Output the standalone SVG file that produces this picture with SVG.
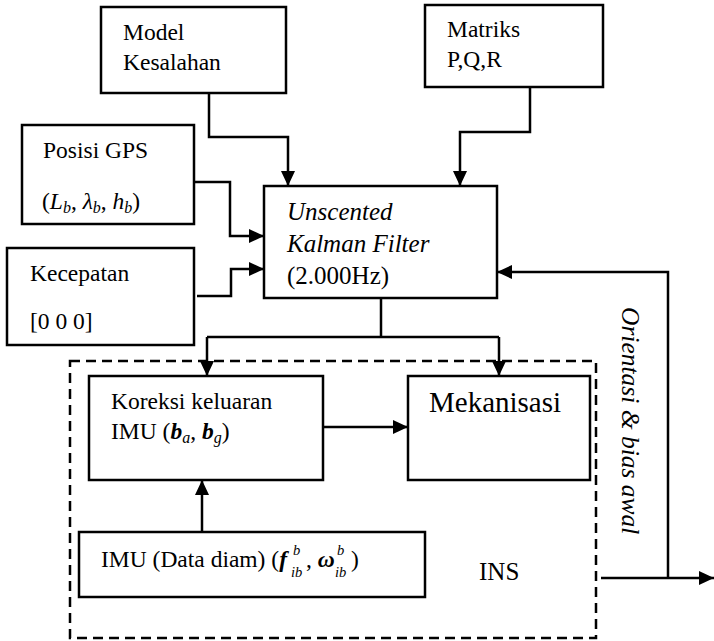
<svg xmlns="http://www.w3.org/2000/svg" width="714" height="641" viewBox="0 0 714 641" font-family="'Liberation Serif', 'Times New Roman', 'DejaVu Serif', serif">
<style>
.box{fill:#fff;stroke:#000;stroke-width:2.5}
.t{font-size:23.5px;fill:#000}
.it{font-style:italic}
.bi{font-style:italic;font-weight:bold}
.sm{font-size:16px}
.xs{font-size:14.5px}
.c{fill:none;stroke:#000;stroke-width:2.5}
</style>
<defs>
<marker id="ah" markerUnits="userSpaceOnUse" markerWidth="16" markerHeight="14" refX="15" refY="7" orient="auto">
<path d="M0,0 L15,7 L0,14 z" fill="#000"/>
</marker>
</defs>
<rect width="714" height="641" fill="#fff"/>

<g id="ins-group">
<rect x="70" y="361" width="526" height="277" fill="none" stroke="#000" stroke-width="2.5" stroke-dasharray="10,6"/>
<text class="t" x="479" y="580" font-family="'Liberation Serif', serif" style="font-size:25px">INS</text>
</g>

<g id="connectors">
<path class="c" d="M209,93 V137 H288 V186" marker-end="url(#ah)"/>
<path class="c" d="M530,87 V132 H460 V186" marker-end="url(#ah)"/>
<path class="c" d="M194,182 H230 V236 H264" marker-end="url(#ah)"/>
<path class="c" d="M197,296 H231 V269 H264" marker-end="url(#ah)"/>
<path class="c" d="M381,298 V337"/>
<path class="c" d="M207,337 H499"/>
<path class="c" d="M207,337 V376" marker-end="url(#ah)"/>
<path class="c" d="M499,337 V376" marker-end="url(#ah)"/>
<path class="c" d="M323,427 H408" marker-end="url(#ah)"/>
<path class="c" d="M202,532 V480" marker-end="url(#ah)"/>
<path class="c" d="M601,578 H714" marker-end="url(#ah)"/>
<path class="c" d="M668,578 V272 H497" marker-end="url(#ah)"/>
</g>

<g id="model-kesalahan" font-family="'Liberation Serif', serif">
<rect class="box" x="101" y="7" width="185" height="86"/>
<text class="t" x="123" y="40">Model</text>
<text class="t" x="123" y="70">Kesalahan</text>
</g>

<g id="matriks" font-family="'Liberation Serif', serif">
<rect class="box" x="425" y="5" width="178" height="82"/>
<text class="t" x="447" y="37">Matriks</text>
<text class="t" x="447" y="67">P,Q,R</text>
</g>

<g id="posisi-gps" font-family="'Liberation Serif', serif">
<rect class="box" x="22" y="125" width="172" height="99"/>
<text class="t" x="43" y="158">Posisi GPS</text>
<text class="t" x="42" y="209">(<tspan class="it">L</tspan><tspan class="it sm" dy="4">b</tspan><tspan dy="-4">, </tspan><tspan class="it">λ</tspan><tspan class="it sm" dy="4">b</tspan><tspan dy="-4">, </tspan><tspan class="it">h</tspan><tspan class="it sm" dy="4">b</tspan><tspan dy="-4">)</tspan></text>
</g>

<g id="kecepatan" font-family="'Liberation Serif', serif">
<rect class="box" x="7" y="248" width="187" height="97"/>
<text class="t" x="30" y="281">Kecepatan</text>
<text class="t" x="30" y="329">[0 0 0]</text>
</g>

<g id="ukf" font-family="'Liberation Serif', serif">
<rect class="box" x="264" y="186" width="233" height="112"/>
<text class="t it" x="287" y="220" style="font-size:25px">Unscented</text>
<text class="t it" x="287" y="252" style="font-size:25px">Kalman Filter</text>
<text class="t" x="287" y="284" style="font-size:25px">(2.000Hz)</text>
</g>

<g id="koreksi" font-family="'Liberation Serif', serif">
<rect class="box" x="89" y="376" width="234" height="104"/>
<text class="t" x="111" y="409">Koreksi keluaran</text>
<text class="t" x="111" y="439">IMU (<tspan class="bi">b</tspan><tspan class="it sm" dy="4">a</tspan><tspan dy="-4">, </tspan><tspan class="bi">b</tspan><tspan class="it sm" dy="4">g</tspan><tspan dy="-4">)</tspan></text>
</g>

<g id="mekanisasi" font-family="'Liberation Serif', serif">
<rect class="box" x="408" y="376" width="182" height="104"/>
<text class="t" x="429" y="412" style="font-size:29px">Mekanisasi</text>
</g>

<g id="imu" font-family="'Liberation Serif', serif">
<rect class="box" x="79" y="532" width="346" height="65"/>
<text class="t" x="101" y="567">IMU (Data diam) (<tspan class="bi">f</tspan></text>
<text class="t it xs" x="293" y="555">b</text>
<text class="t it xs" x="291" y="577">ib</text>
<text class="t" x="306" y="567">, <tspan class="bi">ω</tspan></text>
<text class="t it xs" x="337" y="555">b</text>
<text class="t it xs" x="335" y="577">ib</text>
<text class="t" x="351" y="567">)</text>
</g>

<g id="orientasi-label" font-family="'Liberation Serif', serif">
<text class="t it" transform="translate(622,307) rotate(90)" style="font-size:25.5px">Orientasi &amp; bias awal</text>
</g>
</svg>
